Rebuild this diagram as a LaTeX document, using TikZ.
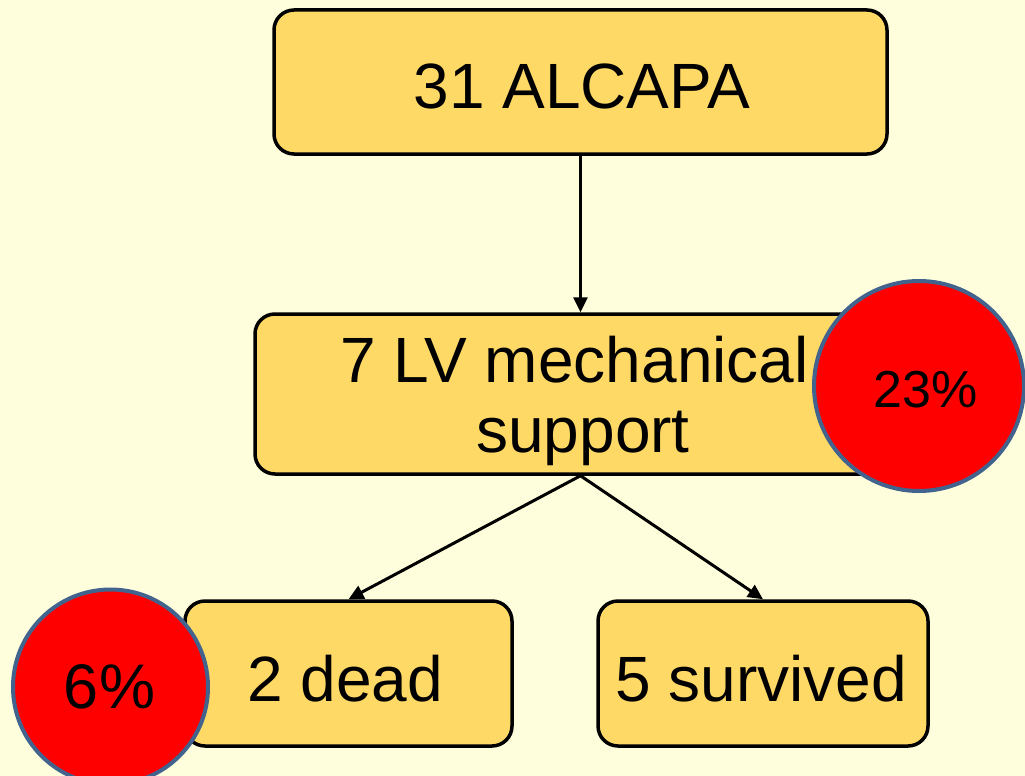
\documentclass[tikz,border=0pt]{standalone}
\usepackage{fontspec}
\setmainfont{Liberation Sans}
\usetikzlibrary{arrows.meta}
\definecolor{bgyellow}{HTML}{FFFEDC}
\definecolor{boxfill}{HTML}{FFD966}
\definecolor{ringblue}{HTML}{41638E}
\tikzset{
  box/.style={draw=black, line width=3.5pt, fill=boxfill, rounded corners=20pt, inner sep=0pt},
  boxtext/.style={anchor=base, inner sep=0pt, font=\fontsize{64}{70}\selectfont},
  conn/.style={draw=black, line width=3pt, -{Triangle[length=15pt,width=14pt]}},
  pct/.style={circle, draw=ringblue, line width=4pt, fill=red, inner sep=0pt}
}
\begin{document}
\begin{tikzpicture}[x=1pt,y=-1pt]
\useasboundingbox (0,0) rectangle (1025,776);
\clip (0,0) rectangle (1025,776);
\fill[bgyellow] (0,0) rectangle (1025,776);
% boxes
\node[box, minimum width=613pt, minimum height=144pt] (top) at (580.5,82) {};
\node[box, minimum width=651pt, minimum height=160pt] (mid) at (580.5,394) {};
\node[box, minimum width=327pt, minimum height=145pt] (dead) at (348.5,673.5) {};
\node[box, minimum width=330pt, minimum height=145pt] (surv) at (763,673.5) {};
% texts
\node[boxtext] (topT) at (582,108) {31 ALCAPA};
\node[boxtext] (midT1) at (574.5,382) {7 LV mechanical};
\node[boxtext] (midT2) at (583,452) {support};
\node[boxtext] (deadT) at (345,701) {2 dead};
\node[boxtext] (survT) at (761,701) {5 survived};
% connectors
\draw[conn] (top.south) -- (mid.north);
\draw[conn] (mid.south) -- (dead.north);
\draw[conn] (mid.south) -- (surv.north);
% percentage circles
\node[pct, minimum size=210pt] (c23) at (919,386) {};
\node[anchor=base, inner sep=0pt, font=\fontsize{52}{60}\selectfont] (c23T) at (926,407) {23\%};
\node[pct, minimum size=195pt] (c6) at (110.5,687) {};
\node[anchor=base, inner sep=0pt, font=\fontsize{63}{70}\selectfont] (c6T) at (109.5,708) {6\%};
\end{tikzpicture}
\end{document}
